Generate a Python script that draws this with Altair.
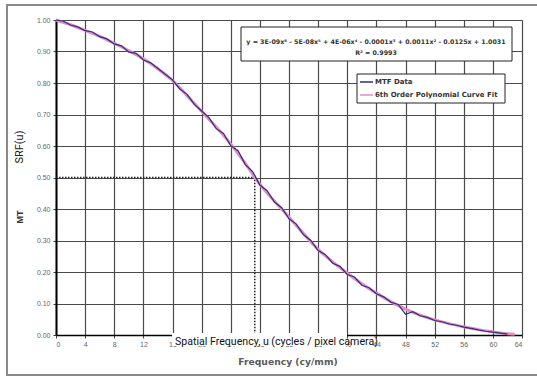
import altair as alt
import pandas as pd

# ---------------- data ----------------
mtf_freq = list(range(0, 63))
mtf_vals = [1.000, 0.996, 0.984, 0.978, 0.966, 0.962, 0.947, 0.940, 0.924, 0.918,
            0.898, 0.894, 0.873, 0.864, 0.846, 0.828, 0.810, 0.781, 0.764, 0.732,
            0.711, 0.690, 0.655, 0.640, 0.601, 0.585, 0.541, 0.519, 0.476, 0.458,
            0.422, 0.404, 0.369, 0.352, 0.318, 0.300, 0.268, 0.255, 0.228, 0.218,
            0.192, 0.184, 0.158, 0.150, 0.131, 0.121, 0.104, 0.097, 0.066, 0.074,
            0.061, 0.056, 0.046, 0.042, 0.035, 0.031, 0.025, 0.021, 0.016, 0.012,
            0.009, 0.006, 0.003]

fit_freq = [0, 2, 4, 6, 8, 10, 12, 14, 16, 18, 20, 22, 24, 26, 28, 30, 32, 34, 36,
            38, 40, 42, 44, 46, 48, 50, 52, 54, 56, 58, 60, 62, 63]
fit_vals = [1.000, 0.985, 0.967, 0.948, 0.926, 0.903, 0.877, 0.845, 0.808, 0.760,
            0.710, 0.660, 0.606, 0.545, 0.478, 0.425, 0.374, 0.322, 0.272, 0.232,
            0.196, 0.163, 0.133, 0.106, 0.082, 0.063, 0.048, 0.036, 0.026, 0.017,
            0.010, 0.004, 0.002]

half_freq = [0, 27.3, 27.3]
half_level = [0.5, 0.5, 0.0]

x_ticks = list(range(0, 65, 4))
y_ticks = [0.0, 0.1, 0.2, 0.3, 0.4, 0.5, 0.6, 0.7, 0.8, 0.9, 1.0]

equation_line1 = "y = 3E-09x\u2076 - 5E-08x\u2075 + 4E-06x\u2074 - 0.0001x\u00b3 + 0.0011x\u00b2 - 0.0125x + 1.0031"
equation_line2 = "R\u00b2 = 0.9993"
legend_labels = ["MTF Data", "6th Order Polynomial Curve Fit"]
legend_colors = ["#2e2e82", "#e48cc0"]

W, H = 466, 315
FONT = "Liberation Sans"
BOXFONT = "DejaVu Sans"

mtf_df = pd.DataFrame({"x": mtf_freq, "y": mtf_vals})
fit_df = pd.DataFrame({"x": fit_freq, "y": fit_vals})
half_df = pd.DataFrame({"x": half_freq, "y": half_level})
one = pd.DataFrame({"a": [0]})

x_enc = alt.X("x:Q", title="",
              scale=alt.Scale(domain=[0, 64], nice=False, zero=False),
              axis=alt.Axis(values=x_ticks, format="d", grid=True, labelPadding=2,
                            tickSize=3, domainWidth=1.5, zindex=0))
y_enc = alt.Y("y:Q", title="",
              scale=alt.Scale(domain=[0, 1], nice=False, zero=False),
              axis=alt.Axis(values=y_ticks, format=".2f", grid=True, labelPadding=3,
                            tickSize=3, domainWidth=2, zindex=0))

base_one = alt.Chart(one)

frame = base_one.mark_rect(filled=False, stroke="#8a8a8a", strokeWidth=2).encode(
    x=alt.value(-49), x2=alt.value(490), y=alt.value(-15), y2=alt.value(355))

fit_line = alt.Chart(fit_df).mark_line(color=legend_colors[1], strokeWidth=3,
                                       interpolate="monotone").encode(x=x_enc, y=y_enc)
data_line = alt.Chart(mtf_df).mark_line(color=legend_colors[0], strokeWidth=1.2).encode(
    x=x_enc, y=y_enc)
half_line = alt.Chart(half_df).mark_line(color="#222222", strokeWidth=1.5,
                                         strokeDash=[1.5, 1.5]).encode(
    x=x_enc, y=y_enc, order=alt.Order("y:Q", sort="descending"))

eq_box = base_one.mark_rect(fill="white", stroke="#222222", strokeWidth=1).encode(
    x=alt.value(185), x2=alt.value(456), y=alt.value(7), y2=alt.value(41))
eq_t1 = base_one.mark_text(text=equation_line1, font=BOXFONT, fontSize=6.3, fontWeight="bold",
                           color="#333333", align="center", baseline="middle").encode(
    x=alt.value(320), y=alt.value(22))
eq_t2 = base_one.mark_text(text=equation_line2, font=BOXFONT, fontSize=6.3, fontWeight="bold",
                           color="#333333", align="center", baseline="middle").encode(
    x=alt.value(320), y=alt.value(33))

lg_box = base_one.mark_rect(fill="white", stroke="#222222", strokeWidth=1).encode(
    x=alt.value(301), x2=alt.value(449), y=alt.value(54), y2=alt.value(83))
lg_s1 = base_one.mark_rule(color=legend_colors[0], strokeWidth=1.5).encode(
    x=alt.value(304), x2=alt.value(317), y=alt.value(62))
lg_s2 = base_one.mark_rule(color=legend_colors[1], strokeWidth=1.5).encode(
    x=alt.value(304), x2=alt.value(317), y=alt.value(75))
lg_t1 = base_one.mark_text(text=legend_labels[0], font=BOXFONT, fontSize=7, fontWeight="bold",
                           color="#333333", align="left", baseline="middle").encode(
    x=alt.value(319), y=alt.value(62))
lg_t2 = base_one.mark_text(text=legend_labels[1], font=BOXFONT, fontSize=7, fontWeight="bold",
                           color="#333333", align="left", baseline="middle").encode(
    x=alt.value(319), y=alt.value(75))

y_title = base_one.mark_text(text="MT", font=FONT, fontSize=9, fontWeight="bold",
                             color="#333333", angle=270, align="center",
                             baseline="middle").encode(x=alt.value(-36), y=alt.value(197))
srf_title = base_one.mark_text(text="SRF(u)", font="Roboto", fontSize=11, color="#222222",
                               angle=270, align="center", baseline="middle").encode(
    x=alt.value(-36), y=alt.value(127))
x_title = base_one.mark_text(text="Frequency (cy/mm)", font=BOXFONT, fontSize=9.2,
                             fontWeight="bold", color="#5a5a5a", align="center",
                             baseline="middle").encode(x=alt.value(232), y=alt.value(342))

overlay_bg = base_one.mark_rect(fill="white").encode(
    x=alt.value(116), x2=alt.value(291), y=alt.value(313), y2=alt.value(326))
overlay_t = base_one.mark_text(text="Spatial  Frequency, u (cycles / pixel camera)",
                               font="Roboto", fontSize=10.6, color="#111111", align="left",
                               baseline="alphabetic").encode(x=alt.value(119), y=alt.value(325))

chart = alt.layer(
    frame, half_line, fit_line, data_line, eq_box, eq_t1, eq_t2,
    lg_box, lg_s1, lg_s2, lg_t1, lg_t2, y_title, srf_title, x_title,
    overlay_bg, overlay_t
).properties(
    width=W, height=H,
    autosize=alt.AutoSizeParams(type="none"),
    padding={"left": 56, "top": 20, "right": 15, "bottom": 42},
    background="white",
).configure_view(strokeWidth=0).configure_axis(
    gridColor="#4a4a4a", gridWidth=1.2, gridOpacity=1,
    domainColor="#000000", tickColor="#444444",
    labelFont=FONT, labelFontSize=7, labelColor="#666666",
)

chart.save("out.html", embed_options={"renderer": "svg", "actions": False})
